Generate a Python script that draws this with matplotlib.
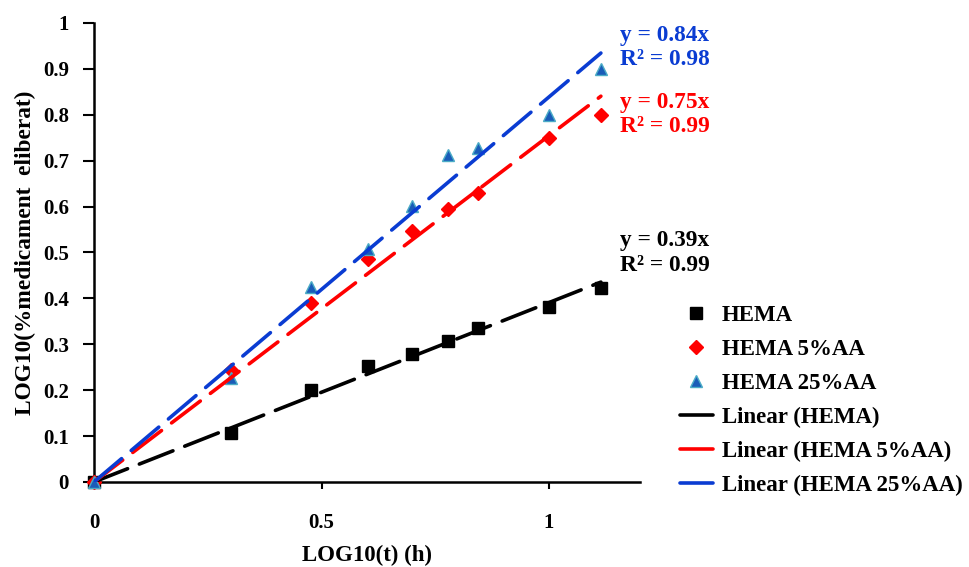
import numpy as np
import matplotlib
matplotlib.use('Agg')
import matplotlib.pyplot as plt

# log10 of sampling times (h)
log_t = [0.0, 0.301, 0.477, 0.602, 0.699, 0.778, 0.845, 1.0, 1.114]

hema = [0.0, 0.107, 0.201, 0.253, 0.278, 0.308, 0.335, 0.381, 0.422]
hema_5aa = [0.0, 0.243, 0.390, 0.486, 0.546, 0.594, 0.630, 0.749, 0.800]
hema_25aa = [0.0, 0.226, 0.425, 0.508, 0.601, 0.713, 0.727, 0.799, 0.900]

series_names = ['HEMA', 'HEMA 5%AA', 'HEMA 25%AA']
eq_labels = ['y = 0.39x\nR² = 0.99', 'y = 0.75x\nR² = 0.99', 'y = 0.84x\nR² = 0.98']

plt.rcParams['font.family'] = ['Liberation Serif', 'DejaVu Serif']
plt.rcParams['font.weight'] = 'bold'

fig = plt.figure(figsize=(9.69, 5.67), dpi=100)
ax = fig.add_axes([0.097, 0.15, 0.5635, 0.8095])

x = np.array(log_t)
styles = [
    dict(marker='s', color='black', ms=8, mec='black'),
    dict(marker='D', color='red', ms=7.5, mec='red'),
    dict(marker='^', color='#1a5cb8', ms=8, mec='#4bacc6'),
]
line_cols = ['black', 'red', '#0a3cd2']
ys = [hema, hema_5aa, hema_25aa]

pts = []
for y, st, name in zip(ys, styles, series_names):
    h, = ax.plot(x, y, ls='none', marker=st['marker'], color=st['color'],
                 ms=st['ms'], mec=st['mec'], mew=1, label=name, zorder=3, clip_on=False)
    pts.append(h)

lines = []
text_y = [0.499, 0.80, 0.946]
for y, c, name, lab, ty in zip(ys, line_cols, series_names, eq_labels, text_y):
    y = np.array(y)
    slope = np.sum(x * y) / np.sum(x * x)  # trendline through origin
    xl = np.linspace(0, x.max(), 50)
    h, = ax.plot(xl, slope * xl, color=c, lw=2.6, dashes=(10, 3.5),
                 label='Linear (%s)' % name, zorder=4, solid_capstyle='round',
                 dash_capstyle='round')
    lines.append(h)
    ax.text(1.156, ty, lab, color=c, fontsize=16.8, fontweight='bold',
            va='center', ha='left', linespacing=1.2, clip_on=False)

ax.set_xlim(0, 1.2)
ax.set_ylim(0, 1)
ax.set_xticks([0, 0.5, 1])
ax.set_xticklabels(['0', '0.5', '1'])
ax.set_yticks(np.arange(0, 1.01, 0.1))
ax.set_yticklabels(['0', '0.1', '0.2', '0.3', '0.4', '0.5', '0.6', '0.7', '0.8', '0.9', '1'])
ax.tick_params(axis='x', length=5, width=1.5, pad=17, labelsize=15)
ax.tick_params(axis='y', length=8, width=1.5, pad=10, labelsize=15)
for s in ['top', 'right']:
    ax.spines[s].set_visible(False)
for s in ['left', 'bottom']:
    ax.spines[s].set_linewidth(1.8)

ax.set_xlabel('LOG10(t) (h)', fontsize=16.5, fontweight='bold', labelpad=9)
ax.set_ylabel('LOG10(%medicament  eliberat)', fontsize=16.8, fontweight='bold', labelpad=5)

handles = pts + lines
leg = fig.legend(handles=handles, labels=[h.get_label() for h in handles],
                 loc='upper left', bbox_to_anchor=(0.692, 0.478), frameon=False,
                 fontsize=16.5, handlelength=1.45, handletextpad=0.4,
                 labelspacing=0.56, borderaxespad=0)
for h in leg.legend_handles[3:]:
    h.set_linestyle('-')

fig.savefig('out.png', dpi=100)
